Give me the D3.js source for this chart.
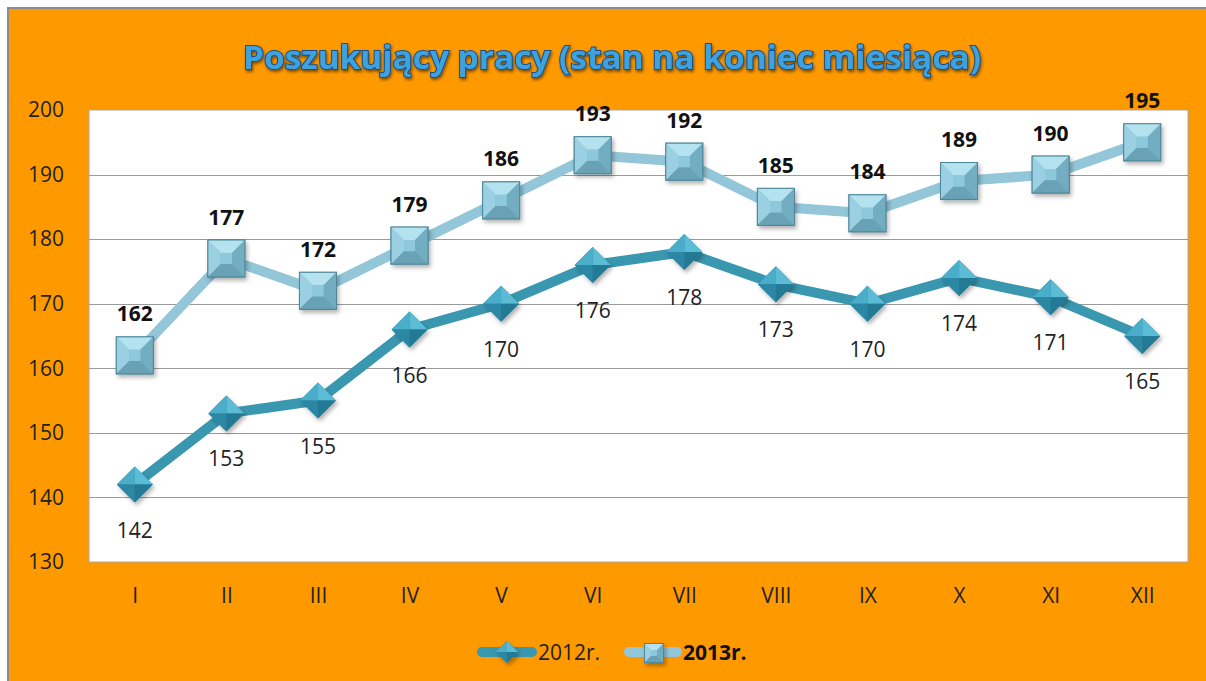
<!DOCTYPE html>
<html>
<head>
<meta charset="utf-8">
<script src="https://cdn.jsdelivr.net/npm/d3@7"></script>
<style>
  body { margin: 0; background: #fff; }
  svg { display: block; }
</style>
</head>
<body>
<div id="chart"></div>
<script>
const months = ["I", "II", "III", "IV", "V", "VI", "VII", "VIII", "IX", "X", "XI", "XII"];
const values2012 = [142, 153, 155, 166, 170, 176, 178, 173, 170, 174, 171, 165];
const values2013 = [162, 177, 172, 179, 186, 193, 192, 185, 184, 189, 190, 195];
const yTicks = [130, 140, 150, 160, 170, 180, 190, 200];
const seriesNames = ["2012r.", "2013r."];

const W = 1206, H = 681;
const plot = {left: 89, right: 1188, top: 110, bottom: 562};
const fontFam = "'Open Sans', 'DejaVu Sans', sans-serif";
const fs = 21;

const svg = d3.select("#chart").append("svg")
    .attr("width", W).attr("height", H);

const defs = svg.append("defs");
const sh = defs.append("filter").attr("id", "shadow").attr("x", "-30%").attr("y", "-30%").attr("width", "160%").attr("height", "160%");
sh.append("feDropShadow").attr("dx", 2).attr("dy", 3).attr("stdDeviation", 2).attr("flood-color", "#000").attr("flood-opacity", 0.3);
const tsh = defs.append("filter").attr("id", "tshadow").attr("x", "-5%").attr("y", "-30%").attr("width", "110%").attr("height", "160%");
tsh.append("feDropShadow").attr("dx", 1).attr("dy", 2).attr("stdDeviation", 1.5).attr("flood-color", "#000").attr("flood-opacity", 0.5);

// background frame
svg.append("rect").attr("x", 0).attr("y", 0).attr("width", W).attr("height", H).attr("fill", "#fff");
svg.append("rect").attr("x", 8).attr("y", 8).attr("width", W + 10).attr("height", H + 10)
    .attr("fill", "#FF9900").attr("stroke", "#8c8c8c").attr("stroke-width", 2);

// title
svg.append("text")
    .attr("x", 612).attr("y", 69)
    .attr("text-anchor", "middle")
    .attr("font-family", fontFam)
    .attr("font-weight", "bold")
    .attr("font-size", 33)
    .attr("textLength", 738)
    .attr("lengthAdjust", "spacingAndGlyphs")
    .attr("fill", "#3fa2dc")
    .attr("stroke", "#164f8e")
    .attr("stroke-width", 2)
    .attr("paint-order", "stroke")
    .attr("filter", "url(#tshadow)")
    .text("Poszukujący pracy (stan na koniec miesiąca)");

const x = d3.scalePoint()
    .domain(months)
    .range([plot.left, plot.right])
    .padding(0.5);

const y = d3.scaleLinear()
    .domain([130, 200])
    .range([plot.bottom, plot.top]);

// plot area
svg.append("rect")
    .attr("x", plot.left).attr("y", plot.top)
    .attr("width", plot.right - plot.left).attr("height", plot.bottom - plot.top)
    .attr("fill", "#fff").attr("stroke", "#a6a6a6").attr("stroke-width", 1);

// grid lines
svg.append("g").selectAll("line")
    .data(yTicks.slice(1, -1))
    .join("line")
    .attr("x1", plot.left).attr("x2", plot.right)
    .attr("y1", d => Math.round(y(d)) + 0.5).attr("y2", d => Math.round(y(d)) + 0.5)
    .attr("stroke", "#9a9a9a").attr("stroke-width", 1);

// y axis
const yAxis = svg.append("g")
    .attr("transform", `translate(${plot.left},0)`)
    .call(d3.axisLeft(y).tickValues(yTicks).tickSize(0).tickPadding(25));
yAxis.select(".domain").remove();
yAxis.selectAll("text")
    .attr("font-family", fontFam).attr("font-size", fs).attr("fill", "#222");

// x axis
const xAxis = svg.append("g")
    .attr("transform", `translate(0,${plot.bottom})`)
    .call(d3.axisBottom(x).tickSize(0).tickPadding(26));
xAxis.select(".domain").remove();
xAxis.selectAll("text")
    .attr("font-family", fontFam).attr("font-size", fs).attr("fill", "#222");

const line = d3.line().x((d, i) => x(months[i])).y(d => y(d));

const c2012 = "#3a97b0", c2013 = "#92c6d8";

// marker drawing helpers
function diamond(g, s) {
    const r = s / 2;
    g.append("path").attr("d", `M0,${-r}L${r},0L0,${r}L${-r},0Z`).attr("fill", "#2f8aa6").attr("filter", "url(#shadow)");
    g.append("path").attr("d", `M0,${-r}L${r},0L0,0Z`).attr("fill", "#5cbcd6");
    g.append("path").attr("d", `M0,${-r}L${-r},0L0,0Z`).attr("fill", "#4aaecb");
    g.append("path").attr("d", `M${-r},0L0,${r}L0,0Z`).attr("fill", "#2b87a3");
    g.append("path").attr("d", `M${r},0L0,${r}L0,0Z`).attr("fill", "#237a95");
}
function square(g, s) {
    const r = s / 2, q = r * 0.3;
    g.append("rect").attr("x", -r).attr("y", -r).attr("width", s).attr("height", s)
        .attr("fill", "#7fbcd0").attr("stroke", "#4d8799").attr("stroke-width", 1).attr("filter", "url(#shadow)");
    g.append("path").attr("d", `M${-r},${-r}L${r},${-r}L${q},${-q}L${-q},${-q}Z`).attr("fill", "#b5e2ef");
    g.append("path").attr("d", `M${-r},${-r}L${-q},${-q}L${-q},${q}L${-r},${r}Z`).attr("fill", "#9bd0e2");
    g.append("path").attr("d", `M${r},${-r}L${r},${r}L${q},${q}L${q},${-q}Z`).attr("fill", "#72adc1");
    g.append("path").attr("d", `M${-r},${r}L${r},${r}L${q},${q}L${-q},${q}Z`).attr("fill", "#6aa2b5");
    g.append("rect").attr("x", -q).attr("y", -q).attr("width", 2 * q).attr("height", 2 * q).attr("fill", "#8ec8db");
    g.append("rect").attr("x", -r).attr("y", -r).attr("width", s).attr("height", s)
        .attr("fill", "none").attr("stroke", "#4d8799").attr("stroke-width", 1);
}

// lines
svg.append("path").datum(values2013).attr("d", line)
    .attr("fill", "none").attr("stroke", c2013).attr("stroke-width", 10).attr("stroke-linejoin", "round");
svg.append("path").datum(values2012).attr("d", line)
    .attr("fill", "none").attr("stroke", c2012).attr("stroke-width", 10).attr("stroke-linejoin", "round");

// markers
svg.append("g").selectAll("g")
    .data(values2012)
    .join("g")
    .attr("transform", (d, i) => `translate(${x(months[i])},${y(d)})`)
    .each(function() { diamond(d3.select(this), 36); });

svg.append("g").selectAll("g")
    .data(values2013)
    .join("g")
    .attr("transform", (d, i) => `translate(${x(months[i])},${y(d)})`)
    .each(function() { square(d3.select(this), 37); });

// data labels
svg.append("g").selectAll("text")
    .data(values2012)
    .join("text")
    .attr("x", (d, i) => x(months[i]))
    .attr("y", d => y(d) + 53)
    .attr("text-anchor", "middle")
    .attr("font-family", fontFam).attr("font-size", fs).attr("fill", "#222")
    .text(d => d);

svg.append("g").selectAll("text")
    .data(values2013)
    .join("text")
    .attr("x", (d, i) => x(months[i]))
    .attr("y", d => y(d) - 34)
    .attr("text-anchor", "middle")
    .attr("font-family", fontFam).attr("font-size", fs).attr("font-weight", "bold").attr("fill", "#111")
    .text(d => d);

// legend
const legend = svg.append("g").attr("transform", "translate(0,652)");
const l1 = legend.append("g");
l1.append("line").attr("x1", 482).attr("x2", 532).attr("y1", 0).attr("y2", 0)
    .attr("stroke", c2012).attr("stroke-width", 10).attr("stroke-linecap", "round");
diamond(l1.append("g").attr("transform", "translate(507,0)"), 22);
l1.append("text").attr("x", 538).attr("y", 8)
    .attr("font-family", fontFam).attr("font-size", fs).attr("fill", "#222")
    .text(seriesNames[0]);

const l2 = legend.append("g");
l2.append("line").attr("x1", 629).attr("x2", 677).attr("y1", 0).attr("y2", 0)
    .attr("stroke", c2013).attr("stroke-width", 10).attr("stroke-linecap", "round");
square(l2.append("g").attr("transform", "translate(654,1)"), 19);
l2.append("text").attr("x", 683).attr("y", 8)
    .attr("font-family", fontFam).attr("font-size", fs).attr("font-weight", "bold").attr("fill", "#111")
    .text(seriesNames[1]);
</script>
</body>
</html>
